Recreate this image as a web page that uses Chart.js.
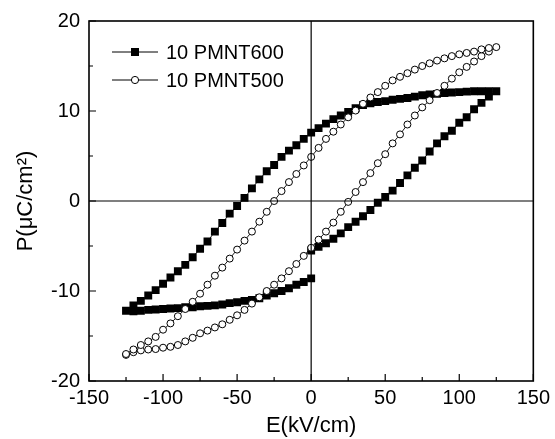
<!DOCTYPE html>
<html>
<head>
<meta charset="utf-8">
<script src="https://cdn.jsdelivr.net/npm/chart.js@4/dist/chart.umd.min.js"></script>
<style>
  body { margin: 0; background: #fff; }
  #wrap { width: 555px; height: 439px; }
</style>
</head>
<body>
<div id="wrap"><canvas id="loops"></canvas></div>
<script>
// 10 PMNT600 (filled squares): rising branch, falling branch, return to 0
const e600_up = [0, 5, 10, 15, 20, 25, 30, 35, 40, 45, 50, 55, 60, 65, 70, 75, 80, 85, 90, 95, 100, 105, 110, 115, 120, 125];
const p600_up = [-5.5, -5.1, -4.7, -4.2, -3.6, -2.9, -2.3, -1.7, -1.0, -0.2, 0.45, 1.15, 2.0, 2.85, 3.7, 4.5, 5.5, 6.4, 7.2, 7.8, 8.7, 9.3, 10.2, 10.9, 11.6, 12.2];
const e600_down = [120, 115, 110, 105, 100, 95, 90, 85, 80, 75, 70, 65, 60, 55, 50, 45, 40, 35, 30, 25, 20, 15, 10, 5, 0,
    -5, -10, -15, -20, -25, -30, -35, -40, -45, -50, -55, -60, -65, -70, -75, -80, -85, -90, -95, -100, -105, -110, -115, -120, -125];
const p600_down = [12.2, 12.2, 12.2, 12.15, 12.1, 12.05, 12.0, 11.9, 11.85, 11.75, 11.6, 11.45, 11.35, 11.25, 11.1, 11.0, 10.85, 10.65, 10.3, 9.9, 9.5, 9.1, 8.6, 8.1, 7.6,
    6.9, 6.2, 5.6, 4.9, 4.0, 3.3, 2.4, 1.4, 0.35, -0.55, -1.4, -2.45, -3.4, -4.5, -5.3, -6.25, -7.1, -7.8, -8.5, -9.2, -9.9, -10.5, -11.1, -11.6, -12.2];
const e600_back = [-120, -115, -110, -105, -100, -95, -90, -85, -80, -75, -70, -65, -60, -55, -50, -45, -40, -35, -30, -25, -20, -15, -10, -5, 0];
const p600_back = [-12.25, -12.2, -12.1, -12.05, -12.0, -11.95, -11.9, -11.8, -11.8, -11.7, -11.65, -11.6, -11.5, -11.35, -11.25, -11.1, -11.0, -10.8, -10.5, -10.25, -10.0, -9.7, -9.3, -9.0, -8.6];

// 10 PMNT500 (open circles): lower branch up, upper branch down
const e500_up = [-125, -120, -115, -110, -105, -100, -95, -90, -85, -80, -75, -70, -65, -60, -55, -50, -45, -40, -35, -30, -25, -20, -15, -10, -5, 0,
    5, 10, 15, 20, 25, 30, 35, 40, 45, 50, 55, 60, 65, 70, 75, 80, 85, 90, 95, 100, 105, 110, 115, 120, 125];
const p500_up = [-17.1, -16.8, -16.6, -16.5, -16.45, -16.3, -16.2, -16.0, -15.6, -15.2, -14.7, -14.4, -14.05, -13.7, -13.2, -12.7, -12.1, -11.4, -10.7, -10.0, -9.3, -8.6, -7.8, -7.0, -6.1, -5.2,
    -4.3, -3.4, -2.4, -1.2, -0.1, 1.0, 2.1, 3.1, 4.2, 5.2, 6.4, 7.4, 8.5, 9.5, 10.4, 11.2, 12.0, 12.8, 13.6, 14.3, 14.9, 15.5, 16.1, 16.6, 17.1];
const e500_down = [120, 115, 110, 105, 100, 95, 90, 85, 80, 75, 70, 65, 60, 55, 50, 45, 40, 35, 30, 25, 20, 15, 10, 5, 0,
    -5, -10, -15, -20, -25, -30, -35, -40, -45, -50, -55, -60, -65, -70, -75, -80, -85, -90, -95, -100, -105, -110, -115, -120, -125];
const p500_down = [17.0, 16.85, 16.6, 16.45, 16.3, 16.1, 15.85, 15.6, 15.3, 15.0, 14.6, 14.2, 13.8, 13.4, 12.8, 12.1, 11.5, 10.8, 10.05, 9.3, 8.5, 7.7, 6.9, 5.9, 4.9,
    3.95, 3.0, 2.1, 1.1, 0.0, -1.2, -2.3, -3.4, -4.4, -5.4, -6.4, -7.4, -8.3, -9.3, -10.3, -11.2, -12.0, -12.8, -13.6, -14.3, -15.1, -15.6, -16.0, -16.5, -17.0];

const x_ticks = [-150, -100, -50, 0, 50, 100, 150];
const y_ticks = [-20, -10, 0, 10, 20];
const labels = ["10 PMNT600", "10 PMNT500"];

const font_family = '"Liberation Sans", Arial, Helvetica, sans-serif';

function pairs(es, ps) {
    let out = [];
    for (let i = 0; i < es.length; i++) {
        out.push({x: es[i], y: ps[i]});
    }
    return out;
}

const pts600 = pairs(e600_up, p600_up).concat(pairs(e600_down, p600_down), pairs(e600_back, p600_back));
const pts500 = pairs(e500_up, p500_up).concat(pairs(e500_down, p500_down));

// frame, inner ticks, zero cross lines and the legend
const decor = {
    id: 'decor',
    afterDatasetsDraw(chart) {
        const ctx = chart.ctx;
        const a = chart.chartArea;
        const xs = chart.scales.x;
        const ys = chart.scales.y;
        ctx.save();
        ctx.strokeStyle = '#000';

        // zero lines
        ctx.lineWidth = 1.2;
        ctx.beginPath();
        let x0 = xs.getPixelForValue(0);
        let y0 = ys.getPixelForValue(0);
        ctx.moveTo(x0, a.top); ctx.lineTo(x0, a.bottom);
        ctx.moveTo(a.left, y0); ctx.lineTo(a.right, y0);
        ctx.stroke();

        // ticks pointing inwards, bottom and left only
        ctx.lineWidth = 1.2;
        ctx.beginPath();
        for (let v = -150; v <= 150; v += 25) {
            let px = xs.getPixelForValue(v);
            let len = (v % 50 === 0) ? 7 : 4;
            ctx.moveTo(px, a.bottom); ctx.lineTo(px, a.bottom - len);
        }
        for (let v = -20; v <= 20; v += 5) {
            let py = ys.getPixelForValue(v);
            let len = (v % 10 === 0) ? 7 : 4;
            ctx.moveTo(a.left, py); ctx.lineTo(a.left + len, py);
        }
        ctx.stroke();

        // frame
        ctx.lineWidth = 1.6;
        ctx.strokeRect(a.left, a.top, a.right - a.left, a.bottom - a.top);

        // legend
        ctx.font = '20px ' + font_family;
        ctx.fillStyle = '#000';
        ctx.textBaseline = 'middle';
        ctx.textAlign = 'left';
        const rows = [52, 80];
        for (let i = 0; i < 2; i++) {
            let y = rows[i];
            ctx.lineWidth = 1;
            ctx.beginPath();
            ctx.moveTo(112, y); ctx.lineTo(158, y);
            ctx.stroke();
            if (i === 0) {
                ctx.fillRect(131, y - 4, 8, 8);
            } else {
                ctx.beginPath();
                ctx.arc(135, y, 3.6, 0, Math.PI * 2);
                ctx.fillStyle = '#fff';
                ctx.fill();
                ctx.stroke();
                ctx.fillStyle = '#000';
            }
            ctx.fillText(labels[i], 166, y + 1);
        }
        ctx.restore();
    }
};

const loops_ctx = document.getElementById('loops').getContext('2d');
const loops_chart = new Chart(loops_ctx, {
    type: 'scatter',
    data: {
        datasets: [{
            label: labels[1],
            data: pts500,
            showLine: true,
            borderColor: '#000',
            borderWidth: 0.9,
            pointStyle: 'circle',
            pointRadius: 3.5,
            pointBorderWidth: 1,
            pointBackgroundColor: '#fff',
            pointBorderColor: '#000'
        }, {
            label: labels[0],
            data: pts600,
            showLine: true,
            borderColor: '#000',
            borderWidth: 0.9,
            pointStyle: 'rect',
            pointRadius: 5.6,
            pointBorderWidth: 0,
            pointBackgroundColor: '#000',
            pointBorderColor: '#000'
        }]
    },
    options: {
        responsive: true,
        maintainAspectRatio: false,
        animation: false,
        events: [],
        layout: {
            padding: {top: 17, right: 19, left: 0, bottom: 0}
        },
        plugins: {
            legend: {display: false},
            tooltip: {enabled: false}
        },
        scales: {
            x: {
                type: 'linear',
                min: -150,
                max: 150,
                afterBuildTicks(scale) {
                    scale.ticks = x_ticks.map(v => ({value: v}));
                },
                afterFit(scale) {
                    scale.height = 58;
                },
                grid: {display: false, drawTicks: false},
                border: {display: false},
                ticks: {
                    color: '#000',
                    padding: 5,
                    maxRotation: 0,
                    font: {family: font_family, size: 20}
                },
                title: {
                    display: true,
                    text: 'E(kV/cm)',
                    color: '#000',
                    padding: {top: 0, bottom: 0},
                    font: {family: font_family, size: 22}
                }
            },
            y: {
                type: 'linear',
                min: -20,
                max: 20,
                afterBuildTicks(scale) {
                    scale.ticks = y_ticks.map(v => ({value: v}));
                },
                afterFit(scale) {
                    scale.width = 89;
                },
                grid: {display: false, drawTicks: false},
                border: {display: false},
                ticks: {
                    color: '#000',
                    padding: 9,
                    font: {family: font_family, size: 20}
                },
                title: {
                    display: true,
                    text: 'P(\u03bcC/cm\u00b2)',
                    color: '#000',
                    padding: {top: 13, bottom: 0},
                    font: {family: font_family, size: 22}
                }
            }
        }
    },
    plugins: [decor]
});
</script>
</body>
</html>
